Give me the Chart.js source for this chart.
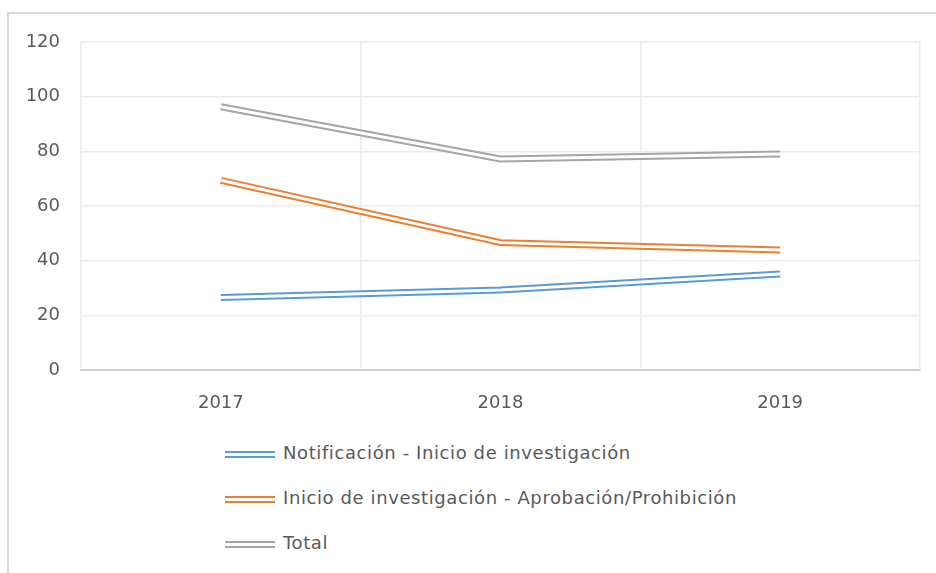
<!DOCTYPE html>
<html lang="es">
<head>
<meta charset="utf-8">
<title>Plazos</title>
<script src="https://cdn.jsdelivr.net/npm/chart.js@4.4.0/dist/chart.umd.min.js"></script>
<style>
  html, body { margin: 0; padding: 0; background: #ffffff; }
  body { width: 936px; height: 573px; position: relative; overflow: hidden; font-family: "DejaVu Sans", sans-serif; }
  #frame { position: absolute; left: 7px; top: 12px; width: 960px; height: 600px;
           border-left: 2px solid #d9d9d9; border-top: 2px solid #d9d9d9; }
  #wrap { position: absolute; left: 0; top: 0; width: 936px; height: 420px; }
  #legend { position: absolute; left: 225px; top: 430px; }
  .row { height: 45px; display: flex; align-items: center; color: #595959; font-size: 18px; letter-spacing: 0.6px; }
  .sw { width: 50px; height: 3px; border-top: 2px solid; border-bottom: 2px solid; margin-right: 8px; margin-top: 4px; }
</style>
</head>
<body>
<div id="frame"></div>
<div id="wrap"><canvas id="c" width="936" height="420"></canvas></div>
<div id="legend"></div>
<script>
const categories = ['2017', '2018', '2019'];
const seriesNames = ['Notificación - Inicio de investigación', 'Inicio de investigación - Aprobación/Prohibición', 'Total'];
const notificacionInicio = [26.5, 29.3, 35.1];
const inicioAprobacion = [69.4, 46.6, 43.9];
const total = [96.3, 77.2, 79.0];
const seriesColors = ['#5B9BD5', '#ED7D31', '#A5A5A5'];
const yMin = 0, yMax = 120, yStep = 20;

const FONT = '"DejaVu Sans", sans-serif';

// Draws a white core over each line so it looks like Excel's double (compound) line
const doubleLine = {
  id: 'doubleLine',
  afterDatasetDraw(chart, args) {
    const meta = args.meta;
    const pts = meta.data;
    if (!pts || !pts.length) return;
    const ctx = chart.ctx;
    ctx.save();
    ctx.beginPath();
    pts.forEach((p, i) => { if (i === 0) ctx.moveTo(p.x, p.y); else ctx.lineTo(p.x, p.y); });
    ctx.strokeStyle = '#ffffff';
    ctx.lineWidth = 3;
    ctx.lineCap = 'butt';
    ctx.lineJoin = 'miter';
    ctx.stroke();
    ctx.restore();
  }
};

const values = [notificacionInicio, inicioAprobacion, total];
const datasets = values.map((v, i) => ({
  label: seriesNames[i],
  data: v,
  borderColor: seriesColors[i],
  backgroundColor: seriesColors[i],
  borderWidth: 7,
  borderCapStyle: 'butt',
  borderJoinStyle: 'miter',
  pointRadius: 0,
  pointHoverRadius: 0,
  tension: 0,
  fill: false
}));

const chart = new Chart(document.getElementById('c'), {
  type: 'line',
  data: { labels: categories, datasets },
  plugins: [doubleLine],
  options: {
    responsive: false,
    animation: false,
    devicePixelRatio: 1,
    layout: { padding: { top: 42, right: 16, left: 0, bottom: 0 } },
    plugins: { legend: { display: false }, tooltip: { enabled: false } },
    scales: {
      x: {
        type: 'category',
        offset: true,
        grid: { color: '#ebebeb', lineWidth: 1.5, offset: true, drawTicks: false },
        border: { color: '#d0d0d0', width: 2 },
        ticks: { color: '#595959', font: { family: FONT, size: 18 }, padding: 23 },
        afterFit(s) { s.height = 50; }
      },
      y: {
        min: yMin, max: yMax,
        grid: { color: '#ebebeb', lineWidth: 1.5, drawTicks: false },
        border: { display: false },
        ticks: { stepSize: yStep, color: '#595959', font: { family: FONT, size: 18 }, padding: 21 },
        afterFit(s) { s.width = 81; }
      }
    }
  }
});

const legend = document.getElementById('legend');
chart.data.datasets.forEach(ds => {
  const row = document.createElement('div');
  row.className = 'row';
  const sw = document.createElement('div');
  sw.className = 'sw';
  sw.style.borderColor = ds.borderColor;
  const t = document.createElement('span');
  t.textContent = ds.label;
  row.appendChild(sw);
  row.appendChild(t);
  legend.appendChild(row);
});
</script>
</body>
</html>
